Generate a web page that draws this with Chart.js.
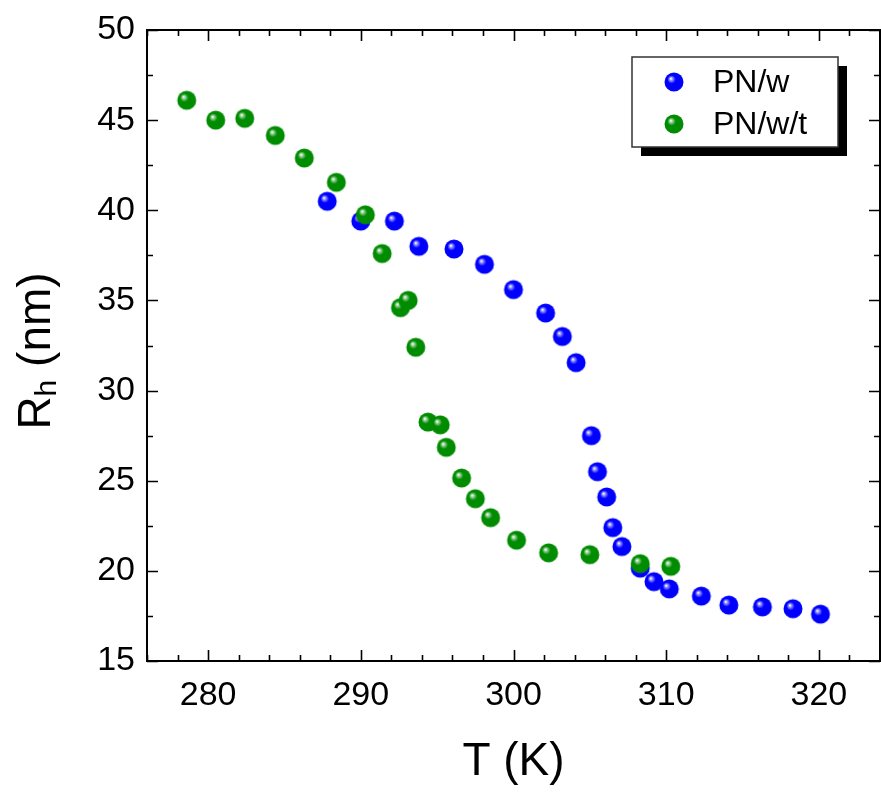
<!DOCTYPE html>
<html>
<head>
<meta charset="utf-8">
<script src="https://cdn.jsdelivr.net/npm/chart.js@4"></script>
<style>
  html, body { margin: 0; padding: 0; background: #fff; }
</style>
</head>
<body>
<canvas id="chart" width="881" height="792"></canvas>
<script>
// PN/w
const tempPNw = [287.8, 290.0, 292.2, 293.8, 296.1, 298.1, 300.0, 302.1, 303.2, 304.1, 305.1, 305.5,
  306.1, 306.5, 307.1, 308.3, 309.2, 310.2, 312.3, 314.1, 316.3, 318.3, 320.1];
const rhPNw = [40.5, 39.4, 39.4, 38.0, 37.85, 37.0, 35.6, 34.3, 33.0, 31.55, 27.5, 25.5,
  24.1, 22.4, 21.35, 20.15, 19.4, 19.0, 18.6, 18.1, 18.0, 17.9, 17.6];
// PN/w/t
const tempPNwt = [278.6, 280.5, 282.4, 284.4, 286.3, 288.4, 290.3, 291.4, 292.6, 293.1, 293.6, 294.4,
  295.2, 295.6, 296.6, 297.5, 298.5, 300.2, 302.3, 305.0, 308.3, 310.3];
const rhPNwt = [46.1, 45.0, 45.1, 44.15, 42.9, 41.55, 39.75, 37.6, 34.6, 35.0, 32.4, 28.25,
  28.1, 26.85, 25.15, 24.0, 22.95, 21.7, 21.0, 20.9, 20.4, 20.25];

const xTicks = [280, 290, 300, 310, 320];
const yTicks = [15, 20, 25, 30, 35, 40, 45, 50];
const seriesNames = ['PN/w', 'PN/w/t'];

const FONT = 'Arial, "Liberation Sans", sans-serif';

// shiny ball marker
function makeBall(color, light) {
  const size = 22, r = 9.5;
  const c = document.createElement('canvas');
  c.width = size; c.height = size;
  const g = c.getContext('2d');
  const cx = size / 2, cy = size / 2;
  const grad = g.createRadialGradient(cx - 3.2, cy - 3.4, 0.3, cx - 1, cy - 1, r + 1);
  grad.addColorStop(0, '#ffffff');
  grad.addColorStop(0.12, light);
  grad.addColorStop(0.38, color);
  grad.addColorStop(1, color);
  g.fillStyle = grad;
  g.beginPath();
  g.arc(cx, cy, r, 0, Math.PI * 2);
  g.fill();
  return c;
}

const blueBall = makeBall('#0000ff', '#9c9cff');
const greenBall = makeBall('#008c00', '#9fd49f');

const toPoints = (xs, ys) => xs.map((x, i) => ({ x: x, y: ys[i] }));

function minorValues(min, max, step) {
  const out = [];
  for (let v = min; v <= max + 1e-9; v += step) out.push(+v.toFixed(3));
  return out;
}

const framePlugin = {
  id: 'frame',
  afterDraw(chart) {
    const ctx = chart.ctx;
    const a = chart.chartArea;
    const xs = chart.scales.x, ys = chart.scales.y;
    ctx.save();
    ctx.strokeStyle = '#000';
    ctx.lineWidth = 2;
    ctx.strokeRect(a.left, a.top, a.right - a.left, a.bottom - a.top);

    // inward ticks, all four sides
    ctx.beginPath();
    minorValues(276, 324, 2).forEach(v => {
      const px = Math.round(xs.getPixelForValue(v)) + 0.5;
      const len = v % 10 === 0 ? 11 : 6;
      ctx.moveTo(px, a.bottom); ctx.lineTo(px, a.bottom - len);
      ctx.moveTo(px, a.top); ctx.lineTo(px, a.top + len);
    });
    minorValues(15, 50, 2.5).forEach(v => {
      const py = Math.round(ys.getPixelForValue(v)) + 0.5;
      const len = v % 5 === 0 ? 11 : 6;
      ctx.moveTo(a.left, py); ctx.lineTo(a.left + len, py);
      ctx.moveTo(a.right, py); ctx.lineTo(a.right - len, py);
    });
    ctx.lineWidth = 1.6;
    ctx.stroke();

    // x title
    ctx.fillStyle = '#000';
    ctx.font = '46px ' + FONT;
    ctx.textAlign = 'center';
    ctx.textBaseline = 'alphabetic';
    ctx.fillText('T (K)', (a.left + a.right) / 2, 775);

    // y title with subscript
    ctx.save();
    ctx.translate(50, 351);
    ctx.rotate(-Math.PI / 2);
    ctx.textAlign = 'left';
    const big = '46px ' + FONT, small = '30px ' + FONT;
    ctx.font = big;
    const wR = ctx.measureText('R').width;
    const wRest = ctx.measureText(' (nm)').width;
    ctx.font = small;
    const wh = ctx.measureText('h').width;
    let x0 = -(wR + wh + wRest) / 2;
    ctx.font = big;
    ctx.fillText('R', x0, 0);
    ctx.font = small;
    ctx.fillText('h', x0 + wR, 6);
    ctx.font = big;
    ctx.fillText(' (nm)', x0 + wR + wh, 0);
    ctx.restore();

    // legend with drop shadow
    const bx = 632, by = 57, bw = 206, bh = 90;
    ctx.fillStyle = '#000';
    ctx.fillRect(bx + 9, by + 9, bw, bh);
    ctx.fillStyle = '#fff';
    ctx.fillRect(bx, by, bw, bh);
    ctx.strokeStyle = '#333';
    ctx.lineWidth = 1.5;
    ctx.strokeRect(bx, by, bw, bh);
    ctx.drawImage(blueBall, 674 - 11, 82 - 11);
    ctx.drawImage(greenBall, 674 - 11, 124 - 11);
    ctx.fillStyle = '#000';
    ctx.font = '32px ' + FONT;
    ctx.textAlign = 'left';
    ctx.textBaseline = 'middle';
    ctx.fillText(seriesNames[0], 713, 83);
    ctx.fillText(seriesNames[1], 713, 125);
    ctx.restore();
  }
};

new Chart(document.getElementById('chart').getContext('2d'), {
  type: 'scatter',
  data: {
    datasets: [
      {
        label: seriesNames[0],
        data: toPoints(tempPNw, rhPNw),
        pointStyle: blueBall,
        pointRadius: 9,
        order: 1,
      },
      {
        label: seriesNames[1],
        data: toPoints(tempPNwt, rhPNwt),
        pointStyle: greenBall,
        pointRadius: 9,
        order: 0,
      },
    ],
  },
  options: {
    responsive: false,
    animation: false,
    layout: { autoPadding: false, padding: { top: 30, right: 1, left: 0, bottom: 0 } },
    plugins: {
      legend: { display: false },
      tooltip: { enabled: false },
    },
    scales: {
      x: {
        type: 'linear',
        min: 276,
        max: 324,
        afterBuildTicks: (s) => { s.ticks = xTicks.map(v => ({ value: v })); },
        afterFit: (s) => { s.height = 131; s.paddingLeft = 0; s.paddingRight = 0; },
        grid: { display: false, drawTicks: false },
        border: { display: false },
        ticks: { color: '#000', padding: 14, maxRotation: 0, font: { size: 34, family: FONT } },
      },
      y: {
        type: 'linear',
        min: 15,
        max: 50,
        afterBuildTicks: (s) => { s.ticks = yTicks.map(v => ({ value: v })); },
        afterFit: (s) => { s.width = 147; s.paddingTop = 0; s.paddingBottom = 0; },
        grid: { display: false, drawTicks: false },
        border: { display: false },
        ticks: { color: '#000', padding: 12, font: { size: 34, family: FONT } },
      },
    },
  },
  plugins: [framePlugin],
});
</script>
</body>
</html>
